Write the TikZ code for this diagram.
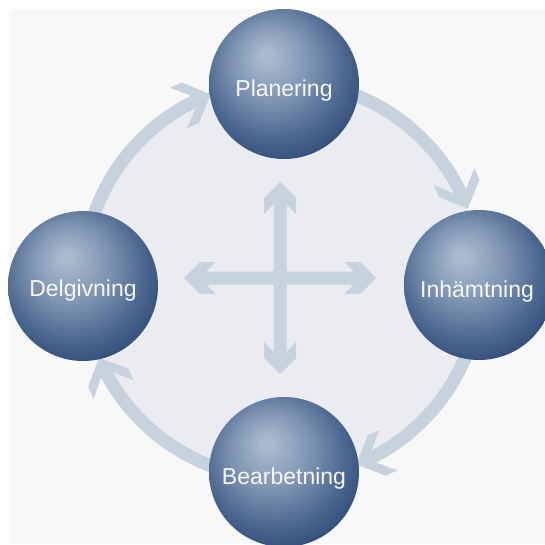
\documentclass[tikz,border=0pt]{standalone}
\usepackage{fontspec}
\setmainfont{Liberation Sans}
\usetikzlibrary{calc}
\definecolor{bgc}{HTML}{F8F8F8}
\definecolor{diskc}{HTML}{EAECF0}
\definecolor{arrc}{HTML}{C6D2DD}
\definecolor{sA}{RGB}{170,186,205}
\definecolor{sB}{RGB}{126,148,178}
\definecolor{sC}{RGB}{78,105,145}
\definecolor{sD}{RGB}{47,75,120}
\definecolor{sE}{RGB}{52,80,125}
\definecolor{sF}{RGB}{96,122,160}
\pgfdeclareradialshading{sphereshade}{\pgfpoint{-6bp}{10bp}}{%
  color(0bp)=(sA); color(2bp)=(sA); color(13bp)=(sB); color(23bp)=(sC);
  color(31bp)=(sD); color(35bp)=(sE); color(38bp)=(sF); color(50bp)=(sF)}
\tikzset{
  globe/.style={circle, minimum size=150pt, inner sep=0pt, shading=sphereshade},
  globetext/.style={text=white!94!gray, inner sep=0pt, font=\fontsize{23}{27}\selectfont},
  ringshaft/.style={draw=arrc, line width=13pt},
  arrowfill/.style={fill=arrc},
}
\begin{document}
\begin{tikzpicture}[x=1pt,y=1pt]
\useasboundingbox (0,0) rectangle (545,544);
\fill[white] (0,0) rectangle (545,544);
\fill[bgc] (9,0) rectangle (545,535);
\coordinate (O) at (282,264);
\coordinate (C) at (280,266);
\fill[diskc] (O) circle[radius=199];
% ring arrows (clockwise)
\foreach \s/\t in {172/111, 80/21, -10/-68, -100/-157}{
  \draw[ringshaft] ($(O)+(\s:199)$) arc[start angle=\s, end angle=\t+5, radius=199];
  \fill[arrowfill, shift={($(O)+(\t:199)$)}, rotate=\t-88]
    (0,0) -- (-22,22) -- (-35,22) -- (-19,6.5) -- (-19,-6.5) -- (-35,-22) -- (-22,-22) -- cycle;
}
% central cross
\foreach \a in {0,90,180,270}{
  \fill[arrowfill, shift={(C)}, rotate=\a]
    (0,-6.5) -- (74,-6.5) -- (64,-16) -- (80,-16) -- (96,0) -- (80,16) -- (64,16) -- (74,6.5) -- (0,6.5) -- cycle;
}
\fill[arrowfill] (C) circle[radius=10];
% spheres
\node[globe] (plan) at (284,460) {};
\node[globe] (inh) at (479,259) {};
\node[globe] (bear) at (284,72) {};
\node[globe] (delg) at (83,258) {};
\node[globetext] (plant) at ([yshift=-7pt]plan.center) {Planering};
\node[globetext] (inht) at ([yshift=-7pt,xshift=-2pt]inh.center) {Inhämtning};
\node[globetext] (beart) at ([yshift=-7pt]bear.center) {Bearbetning};
\node[globetext] (delgt) at ([yshift=-5pt]delg.center) {Delgivning};
\end{tikzpicture}
\end{document}
